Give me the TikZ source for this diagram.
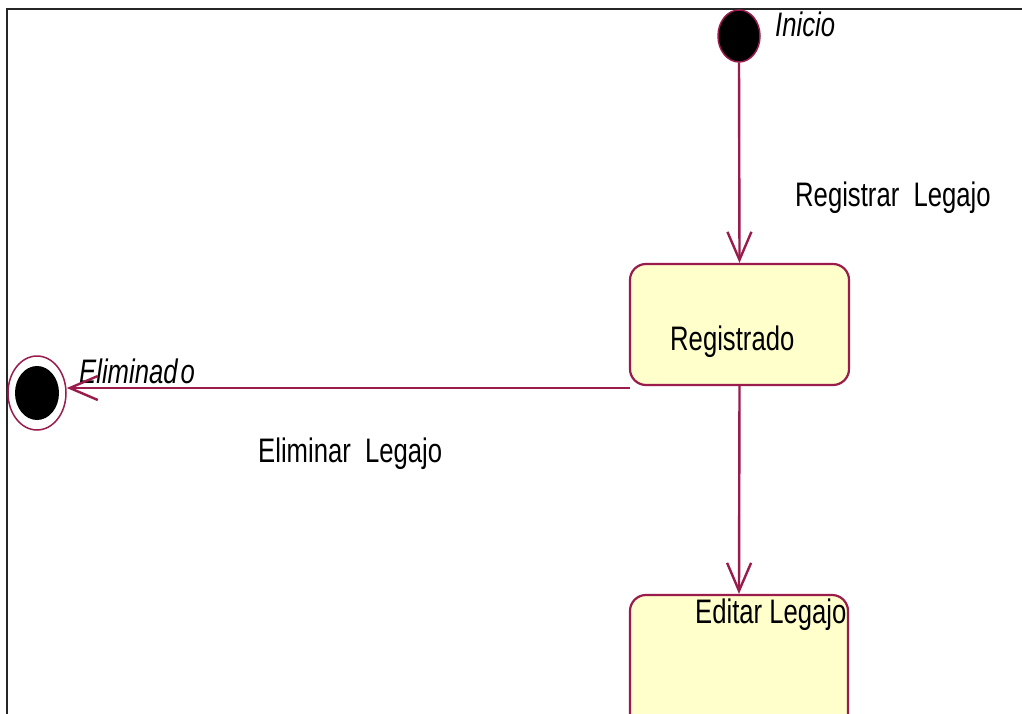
\documentclass[tikz,border=0pt]{standalone}
\usepackage{fontspec}
\setmainfont{Liberation Sans}[FakeStretch=0.755]
\usetikzlibrary{shapes.geometric,arrows.meta}
\definecolor{umlred}{RGB}{153,28,77}
\definecolor{umlfill}{RGB}{255,255,204}
\begin{document}
\begin{tikzpicture}[x=1pt,y=-1pt,
  statebox/.style={draw=umlred,fill=umlfill,line width=2.2pt,rounded corners=16pt,rectangle,inner sep=0pt},
  trans/.style={draw=umlred,line width=2.4pt,-{Straight Barb[length=28pt,width=24pt,line width=2.4pt]}},
  lbl/.style={inner sep=0pt,anchor=base west,font=\fontsize{34}{40}\selectfont},
  ilbl/.style={lbl,font=\fontsize{34}{40}\selectfont\itshape}]
\useasboundingbox (0,0) rectangle (1022,714);
\clip (0,0) rectangle (1022,714);
\fill[white] (0,0) rectangle (1022,714);
% frame
\coordinate (ftr) at (1022,9);
\coordinate (ftl) at (7,9);
\coordinate (fbl) at (7,714);
\draw[line width=2.8pt,black!85] (ftr) -- (ftl) -- (fbl);
% states
\node[ellipse,draw=umlred,fill=black,line width=1.5pt,minimum width=42pt,minimum height=52pt,inner sep=0pt] (start) at (739,36) {};
\node[statebox,minimum width=219pt,minimum height=121pt] (reg) at (739.5,324.5) {};
\node[statebox,minimum width=218pt,minimum height=140pt] (edit) at (739,665) {};
\node[ellipse,draw=umlred,fill=white,line width=1.5pt,minimum width=58pt,minimum height=74pt,inner sep=0pt] (final) at (37,393) {};
\node[ellipse,fill=black,minimum width=44pt,minimum height=54pt,inner sep=0pt] (finalin) at (final.center) {};
% texts
\node[ilbl] (tinicio) at (775,37) {Inicio};
\node[lbl] (treglegajo) at (795,207) {Registrar\space\space Legajo};
\node[lbl] (treg) at (670,350) {Registrado};
\node[ilbl] (telim) at (79,383) {Eliminad\kern3pt o};
\node[lbl] (telimlegajo) at (258,462) {Eliminar\space\space Legajo};
% transitions
\draw[trans] (start.south) -- (reg.north);
\draw[trans] (reg.south) -- (edit.north);
\coordinate (elimstart) at (630,388);
\draw[trans] (elimstart) -- (final.east |- elimstart);
\node[lbl] (tedit) at (695,623) {Editar Legajo};
\end{tikzpicture}
\end{document}
